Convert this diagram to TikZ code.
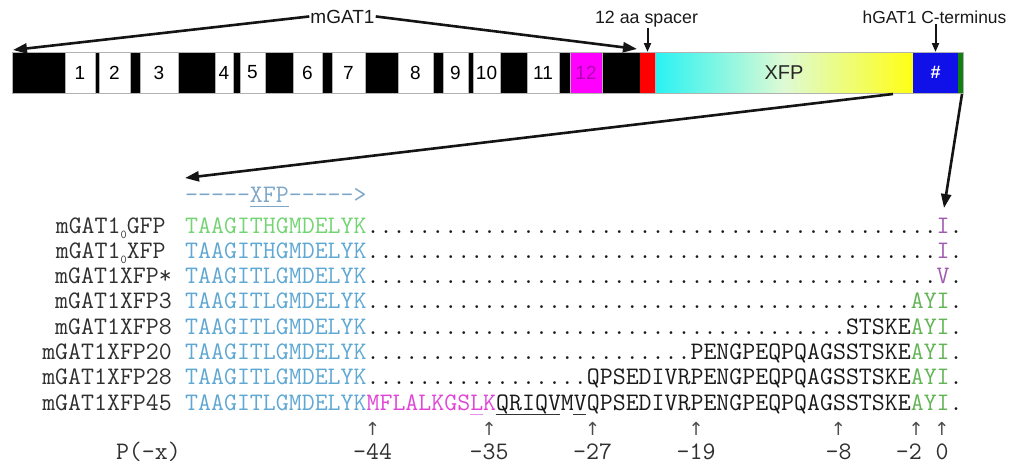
\documentclass[tikz,border=0pt]{standalone}
\usepackage{fontspec}
\setmainfont{Liberation Sans}
\newfontfamily\arrfont{DejaVu Sans}
\usetikzlibrary{arrows.meta}
\definecolor{gfpgreen}{HTML}{74D474}
\definecolor{seqblue}{HTML}{5FA8D3}
\definecolor{seqpur}{HTML}{A05AB0}
\definecolor{ayigreen}{HTML}{62B455}
\definecolor{seqmag}{HTML}{E045D8}
\definecolor{hdrblue}{HTML}{7DA6C8}
\definecolor{labgray}{HTML}{303030}
\definecolor{exmag}{HTML}{FF00FF}
\definecolor{exmagtxt}{HTML}{B000B0}
\definecolor{hgblue}{HTML}{1010E8}
\definecolor{ctgreen}{HTML}{108010}
\definecolor{xcyan}{RGB}{40,242,242}
\definecolor{xmid}{RGB}{222,250,212}
\definecolor{xyel}{RGB}{255,255,20}
\newcommand\sqf{\ttfamily\fontsize{25.16}{26}\selectfont}
\newcommand\seqdots[1]{\foreach\i in {1,...,#1}{.}}
\newcommand\cgf[1]{\textcolor{gfpgreen}{#1}}
\newcommand\cbl[1]{\textcolor{seqblue}{#1}}
\newcommand\cpu[1]{\textcolor{seqpur}{#1}}
\newcommand\cay[1]{\textcolor{ayigreen}{#1}}
\newcommand\cmg[1]{\textcolor{seqmag}{#1}}
\newcommand\hy{-\kern0pt}
\newcommand\subz{\raisebox{-5pt}{\fontsize{12}{12}\selectfont 0}}
\begin{document}
\begin{tikzpicture}[x=1pt,y=-1pt,
  seg/.style={inner sep=0pt, outer sep=0pt, minimum height=41pt, draw=none},
  exon/.style={seg, draw=gray!60, line width=0.4pt, fill=white, font=\fontsize{19}{19}\selectfont},
  toplab/.style={inner sep=1pt, text=black!90},
  bigarrow/.style={line width=2.6pt, draw=black!92, -{Triangle[length=14pt,width=10pt]}},
  smallarrow/.style={line width=2pt, draw=black!92, -{Triangle[length=9pt,width=7pt]}},
  rowlab/.style={inner sep=0pt, text=labgray, font=\sqf},
  seqtxt/.style={inner sep=0pt, anchor=base west, text=black!90, font=\sqf},
  upar/.style={inner sep=0pt, anchor=base, text=black!70, font=\arrfont\fontsize{18}{18}\selectfont},
  poslab/.style={inner sep=0pt, anchor=base, text=labgray, font=\sqf},
  uline/.style={line width=0.8pt}]
\useasboundingbox (0,0) rectangle (1016,463);

% ---- construct bar ----
\node[seg, fill=black, minimum width=628pt] (mbar) at (326,72.5) {};
\foreach \n/\c/\w in {1/80/30, 2/114.5/31, 3/159/38, 4/224/18, 5/252.5/25, 6/307.5/29, 7/348.5/33, 8/415.5/35, 9/455.5/25, 10/486.5/27, 11/543/32}
  \node[exon, minimum width=\w pt] (e\n) at (\c,72.5) {\n};
\node[exon, fill=exmag, text=exmagtxt, minimum width=32pt] (e12) at (586,72.5) {12};
\node[seg, fill=red, minimum width=15pt] (red) at (647.5,72.5) {};
\node[seg, left color=xcyan, right color=xyel, middle color=xmid, minimum width=258pt, draw=gray!60, line width=0.4pt, font=\fontsize{20}{20}\selectfont, text=black!85] (xfp) at (784,72.5) {XFP};
\node[seg, fill=hgblue, minimum width=45pt, text=white, font=\bfseries\fontsize{18}{18}\selectfont] (blue) at (935.5,72.5) {\#};
\node[seg, fill=ctgreen, minimum width=5pt] (grn) at (960.5,72.5) {};
\draw[gray!60, line width=0.4pt] (12,52) rectangle (963,93);

% ---- top labels ----
\node[toplab, anchor=base, font=\fontsize{19}{19}\selectfont] (mg) at (342.5,23) {mGAT1};
\node[toplab, anchor=base, font=\fontsize{17.8}{18}\selectfont] (sp) at (646.5,23) {12 aa spacer};
\node[toplab, anchor=base, font=\fontsize{17.4}{18}\selectfont] (hg) at (934.5,23) {hGAT1 C-terminus};

\coordinate (barL) at (13,50);
\coordinate (barR) at (637,49);
\draw[bigarrow] (mg.west) -- (barL);
\draw[bigarrow] (mg.east) -- (barR);
\draw[smallarrow] (sp.south -| red.north) -- (red.north);
\draw[smallarrow] (hg.south -| blue.north) -- (blue.north);

\coordinate (xfpout) at (893,94);
\coordinate (seqtip) at (185,178);
\coordinate (gout) at (962,94);
\coordinate (itip) at (944,208);
\draw[bigarrow] (xfpout) -- (seqtip);
\draw[bigarrow] (gout) -- (itip);

% ---- alignment ----
\node[seqtxt, text=hdrblue] (hdr) at (185,202) {\hy\hy\hy\hy\hy XFP\hy\hy\hy\hy\hy>};
\draw[hdrblue, uline] (249.7,206) -- (288.5,206);

\node[rowlab, anchor=base west] (l1) at (55.6,233) {mGAT1\subz GFP};
\node[rowlab, anchor=base west] (l2) at (55.6,258.3) {mGAT1\subz XFP};
\node[rowlab, anchor=base east] (l3) at (172.06,283.6) {mGAT1XFP*};
\node[rowlab, anchor=base east] (l4) at (172.06,308.9) {mGAT1XFP3};
\node[rowlab, anchor=base east] (l5) at (172.06,334.2) {mGAT1XFP8};
\node[rowlab, anchor=base east] (l6) at (172.06,359.5) {mGAT1XFP20};
\node[rowlab, anchor=base east] (l7) at (172.06,384.8) {mGAT1XFP28};
\node[rowlab, anchor=base east] (l8) at (172.06,410.1) {mGAT1XFP45};

\node[seqtxt] (s1) at (185,233) {\cgf{TAAGITHGMDELYK}\seqdots{44}\cpu{I}.};
\node[seqtxt] (s2) at (185,258.3) {\cbl{TAAGITHGMDELYK}\seqdots{44}\cpu{I}.};
\node[seqtxt] (s3) at (185,283.6) {\cbl{TAAGITLGMDELYK}\seqdots{44}\cpu{V}.};
\node[seqtxt] (s4) at (185,308.9) {\cbl{TAAGITLGMDELYK}\seqdots{42}\cay{AYI}.};
\node[seqtxt] (s5) at (185,334.2) {\cbl{TAAGITLGMDELYK}\seqdots{37}STSKE\cay{AYI}.};
\node[seqtxt] (s6) at (185,359.5) {\cbl{TAAGITLGMDELYK}\seqdots{25}PENGPEQPQAGSSTSKE\cay{AYI}.};
\node[seqtxt] (s7) at (185,384.8) {\cbl{TAAGITLGMDELYK}\seqdots{17}QPSEDIVRPENGPEQPQAGSSTSKE\cay{AYI}.};
\node[seqtxt] (s8) at (185,410.1) {\cbl{TAAGITLGMDELYK}\cmg{MFLALKGSLK}QRIQ{\addfontfeature{FakeBold=1.5}VMV}QPSEDIVRPENGPEQPQAGSSTSKE\cay{AYI}.};
\draw[seqmag!60, uline] (469.7,414) -- (482.7,414);
\draw[black!80, uline] (495.6,414) -- (560.3,414);
\draw[black!80, uline] (573.2,414) -- (586.2,414);

% ---- positions ----
\foreach \x/\t/\k in {372.6/-44/a, 489.1/-35/b, 592.6/-27/c, 696.1/-19/d, 838.5/-8/e, 942.0/0/g} {
  \node[upar] (u\k) at (\x,435) {↑};
  \node[poslab] (p\k) at (\x,459) {\t};
}
\node[upar] (uf) at (916.2,435) {↑};
\node[poslab, anchor=base east] (pf) at (922,459) {-2};
\node[rowlab, anchor=base east] (px) at (181,459) {P(-x)};
\end{tikzpicture}
\end{document}
